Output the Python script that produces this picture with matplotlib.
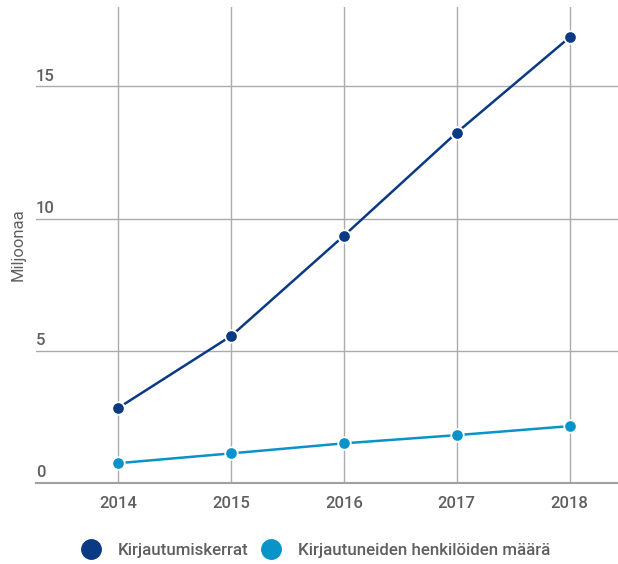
import matplotlib.pyplot as plt
from matplotlib.lines import Line2D

plt.rcParams["font.family"] = ["Roboto", "DejaVu Sans"]

years = [2014, 2015, 2016, 2017, 2018]
kirjautumiskerrat = [2.84, 5.56, 9.35, 13.25, 16.85]
henkilot = [0.75, 1.12, 1.50, 1.81, 2.15]
y_ticks = [0, 5, 10, 15]
labels = ["Kirjautumiskerrat", "Kirjautuneiden henkilöiden määrä"]

DARK = "#0b3a84"
LIGHT = "#0a93c8"
TEXT = "#5f5f5f"
GRID = "#ababab"

fig = plt.figure(figsize=(6.18, 5.64), dpi=100)
ax = fig.add_axes([36 / 618, 81 / 564, 582 / 618, 476 / 564])

ax.set_xlim(2013.27, 2018.43)
ax.set_ylim(0, 18)

for vals, col in [(kirjautumiskerrat, DARK), (henkilot, LIGHT)]:
    ax.plot(years, vals, color=col, lw=1.8, marker="o", ms=9,
            mfc=col, mec="white", mew=1.3, zorder=3)

ax.set_xticks(years)
ax.set_xticklabels([str(y) for y in years], fontsize=12, color=TEXT,
                   fontweight="medium")
ax.set_yticks(y_ticks)
ax.set_yticklabels([])
ax.tick_params(length=0, axis="x", pad=9)
ax.tick_params(length=0, axis="y")
ax.grid(True, color=GRID, lw=1.0)
for s in ["top", "right", "left"]:
    ax.spines[s].set_visible(False)
ax.spines["bottom"].set_color("#a0a0a0")
ax.spines["bottom"].set_linewidth(1.5)

for t in y_ticks:
    ax.text(0.0, t + 0.1, str(t), transform=ax.get_yaxis_transform(),
            ha="left", va="bottom", fontsize=12, color=TEXT,
            fontweight="medium")

fig.text(18 / 618, 1 - 245 / 564, "Miljoonaa", rotation=90, ha="center",
         va="center", fontsize=12, color=TEXT)

handles = [Line2D([], [], ls="none", marker="o", ms=14, color=c)
           for c in (DARK, LIGHT)]
fig.legend(handles, labels, loc="center", bbox_to_anchor=(0.505, 1 - 550 / 564),
           ncol=2, frameon=False, handletextpad=0.6, columnspacing=0.3,
           labelcolor=TEXT, prop={"size": 12.2, "weight": "medium"})

fig.savefig("out.png", dpi=100)
